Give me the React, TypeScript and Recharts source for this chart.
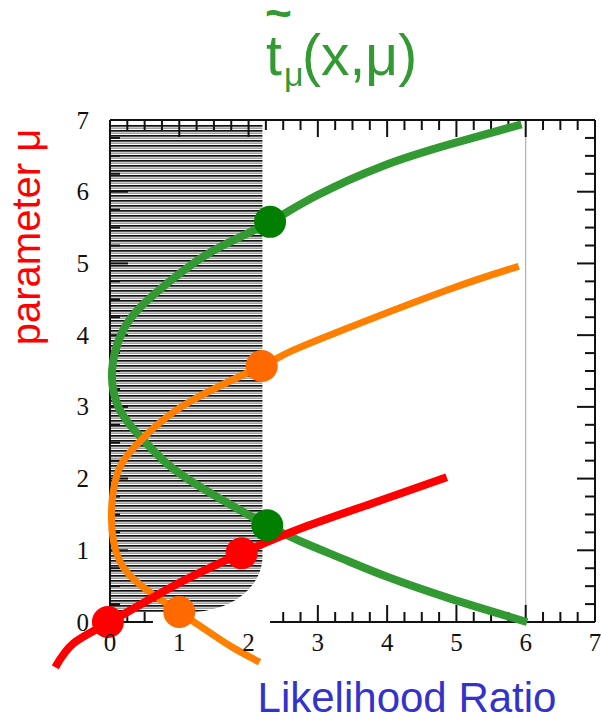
import React from "react";
import { ComposedChart, Line, Scatter, XAxis, YAxis, ReferenceLine, ReferenceArea } from "recharts";

// tick labels
const xTicks = [0, 1, 2, 3, 4, 5, 6, 7];
const yTicks = [0, 1, 2, 3, 4, 5, 6, 7];

// curves, ordered by increasing mu
const greenCurve = [
  { x: 6.02, y: 0.0 }, { x: 4.9, y: 0.33 }, { x: 4.0, y: 0.63 }, { x: 3.36, y: 0.88 },
  { x: 2.74, y: 1.13 }, { x: 2.27, y: 1.35 }, { x: 1.59, y: 1.72 }, { x: 0.91, y: 2.14 },
  { x: 0.48, y: 2.54 }, { x: 0.14, y: 2.96 }, { x: 0.03, y: 3.51 }, { x: 0.17, y: 4.03 },
  { x: 0.5, y: 4.45 }, { x: 1.2, y: 5.0 }, { x: 1.73, y: 5.3 }, { x: 2.31, y: 5.58 },
  { x: 2.99, y: 5.95 }, { x: 3.94, y: 6.36 }, { x: 4.9, y: 6.66 }, { x: 5.94, y: 6.94 },
];
const orangeCurve = [
  { x: 2.16, y: -0.56 }, { x: 1.78, y: -0.36 }, { x: 1.49, y: -0.18 }, { x: 1.0, y: 0.14 },
  { x: 0.5, y: 0.47 }, { x: 0.14, y: 0.85 }, { x: 0.02, y: 1.47 }, { x: 0.1, y: 2.05 },
  { x: 0.28, y: 2.36 }, { x: 0.6, y: 2.68 }, { x: 1.2, y: 3.1 }, { x: 2.19, y: 3.57 },
  { x: 2.6, y: 3.77 }, { x: 3.46, y: 4.11 }, { x: 4.9, y: 4.64 }, { x: 5.9, y: 4.96 },
];
const redCurve = [
  { x: -0.79, y: -0.63 }, { x: -0.53, y: -0.3 }, { x: 0.0, y: 0.0 }, { x: 0.91, y: 0.5 },
  { x: 1.9, y: 0.96 }, { x: 2.74, y: 1.3 }, { x: 3.8, y: 1.66 }, { x: 4.86, y: 2.02 },
];

// highlighted points
const greenDots = [{ x: 2.31, y: 5.58 }, { x: 2.27, y: 1.35 }];
const orangeDots = [{ x: 2.19, y: 3.57 }, { x: 1.0, y: 0.14 }];
const redDots = [{ x: -0.03, y: 0.0 }, { x: 1.9, y: 0.96 }];

// acceptance band (x range and mu range)
const bandX = [0, 2.2];
const bandY = [0.14, 6.93];

const quarters = Array.from({ length: 27 }, (_, i) => (i + 1) * 0.25);
const PX_X = 69.29;
const PX_Y = 71.71;

const tickStyle = { fontFamily: "Liberation Serif", fontSize: 25, fill: "#111" };

const XTick = (p: any) => (
  <text x={p.x} y={p.y - 28} textAnchor="middle" style={tickStyle}>
    {p.payload.value}
  </text>
);
const YTick = (p: any) => (
  <text x={p.x + 42} y={p.y + 8.5} textAnchor="middle" style={tickStyle}>
    {p.payload.value}
  </text>
);

const HatchShape = (p: any) => {
  const { x, y, width: w, height: h } = p;
  const rx = 72;
  const ry = 55;
  const d = `M${x},${y} H${x + w} V${y + h - ry} A${rx},${ry} 0 0 1 ${x + w - rx},${y + h} H${x} Z`;
  return <path d={d} fill="url(#hatch)" />;
};

const dot = (color: string) => (p: any) => <circle cx={p.cx} cy={p.cy} r={16} fill={color} />;

export default function App() {
  const len = (v: number, px: number, major: number, minor: number) =>
    (Number.isInteger(v) ? major : minor) / px;

  return (
    <div style={{ position: "absolute", left: 0, top: 0, width: 601, height: 719, background: "#fff" }}>
      <svg width={0} height={0} style={{ position: "absolute" }}>
        <defs>
          <pattern id="hatch" width="10" height="5" patternUnits="userSpaceOnUse">
            <rect x="0" y="0" width="10" height="5" fill="#fff" />
            <rect x="0" y="0" width="10" height="1.7" fill="#111" />
            <rect x="0" y="2.6" width="10" height="1.1" fill="#777" />
          </pattern>
        </defs>
      </svg>
      <ComposedChart width={601} height={719} margin={{ top: 120, right: 6, bottom: 29.6, left: 0.7 }}>
        <XAxis type="number" dataKey="x" domain={[-1, 7]} ticks={xTicks} interval={0} height={10}
          axisLine={false} tickLine={false} tickSize={0} tickMargin={0} tick={XTick} />
        <YAxis type="number" dataKey="y" domain={[-0.8, 7]} ticks={yTicks} interval={0} width={40}
          axisLine={false} tickLine={false} tickSize={0} tickMargin={0} tick={YTick} />

        <ReferenceArea x1={bandX[0]} x2={bandX[1]} y1={bandY[0]} y2={bandY[1]} shape={HatchShape} />
        <ReferenceLine segment={[{ x: 6, y: 0 }, { x: 6, y: 7 }]} stroke="#a0a0a0" strokeWidth={1} />

        {/* frame */}
        <ReferenceLine segment={[{ x: 0, y: 7 }, { x: 7, y: 7 }]} stroke="#111" strokeWidth={2} />
        <ReferenceLine segment={[{ x: 0, y: 0 }, { x: 0, y: 7 }]} stroke="#111" strokeWidth={2} />
        <ReferenceLine segment={[{ x: 7, y: 0 }, { x: 7, y: 7 }]} stroke="#111" strokeWidth={2} />
        <ReferenceLine segment={[{ x: 0, y: 0 }, { x: 0.62, y: 0 }]} stroke="#111" strokeWidth={2} />
        <ReferenceLine segment={[{ x: 2.31, y: 0 }, { x: 7, y: 0 }]} stroke="#111" strokeWidth={2} />
        {quarters.map((v) => (
          <ReferenceLine key={"t" + v} segment={[{ x: v, y: 7 }, { x: v, y: 7 - len(v, PX_Y, 17, 10) }]} stroke="#111" strokeWidth={2} />
        ))}
        {quarters.filter((v) => v < 0.62 || v > 2.31).map((v) => (
          <ReferenceLine key={"b" + v} segment={[{ x: v, y: 0 }, { x: v, y: len(v, PX_Y, 17, 10) }]} stroke="#111" strokeWidth={2} />
        ))}
        {quarters.map((v) => (
          <ReferenceLine key={"l" + v} segment={[{ x: 0, y: v }, { x: len(v, PX_X, 18, 10), y: v }]} stroke="#111" strokeWidth={2} />
        ))}
        {quarters.map((v) => (
          <ReferenceLine key={"r" + v} segment={[{ x: 7, y: v }, { x: 7 - len(v, PX_X, 18, 10), y: v }]} stroke="#111" strokeWidth={2} />
        ))}

        <Line data={greenCurve} dataKey="y" type="natural" stroke="#339933" strokeWidth={8} dot={false} isAnimationActive={false} />
        <Line data={orangeCurve} dataKey="y" type="natural" stroke="#ff8000" strokeWidth={7} dot={false} isAnimationActive={false} />
        <Line data={redCurve} dataKey="y" type="natural" stroke="#ff0000" strokeWidth={8} dot={false} isAnimationActive={false} />

        <Scatter data={greenDots} dataKey="y" shape={dot("#007f00")} isAnimationActive={false} />
        <Scatter data={orangeDots} dataKey="y" shape={dot("#ff6a00")} isAnimationActive={false} />
        <Scatter data={redDots} dataKey="y" shape={dot("#ff0000")} isAnimationActive={false} />
      </ComposedChart>

      <svg width={601} height={719} style={{ position: "absolute", left: 0, top: 0, pointerEvents: "none" }}>
        <g fontFamily="Liberation Sans, Arial, sans-serif" fill="#339933">
          <text x={265} y={29} fontSize={46} fontWeight="bold">~</text>
          <text x={266} y={75} fontSize={57}>t</text>
          <text x={284} y={86} fontSize={34}>μ</text>
          <text x={302} y={75} fontSize={57}>(x,μ)</text>
        </g>
        <text transform="translate(40,237) rotate(-90)" textAnchor="middle" fontFamily="Liberation Sans, Arial, sans-serif"
          fontSize={40} fill="#ff0000">parameter μ</text>
        <text x={407} y={712} textAnchor="middle" fontFamily="Liberation Sans, Arial, sans-serif" fontSize={42}
          fill="#3333cc">Likelihood Ratio</text>
      </svg>
    </div>
  );
}
